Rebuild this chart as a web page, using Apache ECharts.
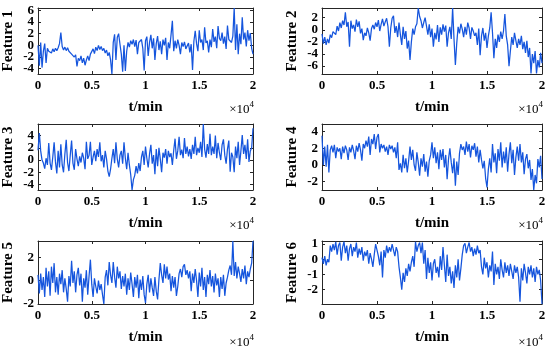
<!DOCTYPE html>
<html>
<head>
<meta charset="utf-8">
<script src="https://cdn.jsdelivr.net/npm/echarts@6/dist/echarts.min.js"></script>
<style>html,body{margin:0;padding:0;background:#fff}#c{width:550px;height:346px}</style>
</head>
<body>
<div id="c"></div>
<script>
// ---- data (t in minutes; one sample every 125 min) ----
const tStep = 125;
const feature1 = [
 0,-3.5,0.5,-3.8,-1,0.3,-3,-0.5,
 -1,-0.7,-1.3,-0.6,-1.1,-0.5,-0.9,-0.4,
 0.3,2.2,-0.2,-0.8,-0.3,-0.9,-0.4,-1,
 -0.8,-1.5,-1.2,-2,-1.6,-3.6,-2.2,-2.6,
 -1.8,-3,-2.2,-3.4,-2.5,-1.8,-2.6,-1.5,
 -1.2,-0.6,-1.4,-0.3,-0.9,0,-0.7,-0.2,
 -0.9,-0.5,-1.3,-0.8,-1.8,-1.2,-2.5,-4.9,
 0.5,1.9,-2.5,1.4,2,0.2,-1.5,-4.5,
 0,-4.4,-1,0.5,-0.3,0.8,0.2,1,
 -0.2,0.9,-1.5,0.5,0.2,1,-0.5,-4.3,
 0.8,1.5,-1.8,0.5,1.8,-0.5,1.2,-2.5,
 0.3,1.6,-0.8,0.7,-1.5,1,0,1.3,
 -2.5,0.5,-0.5,1.8,4.2,-1,0.8,-0.5,
 1,0,-1.5,0.5,-0.2,0.6,-0.6,-0.3,
 0.4,-1.2,0.2,-4.2,0.7,2.5,0.3,-1,
 2.6,0.5,1,-0.8,3.1,0.4,0.8,-1.2,
 1,-0.3,2.8,0.6,1.5,-0.5,3.3,1.2,
 0.8,2.2,0.3,1.5,-0.6,3.4,1,1.3,
 0.5,1.6,6.4,-0.8,3.6,-1.5,2,0.2,
 4.8,1,2.2,-0.2,2.6,0.8,2.1,-0.5,
 -1.5];
const feature2 = [
 -0.7,-2.3,-1.2,-2.5,-1.5,-2.2,-0.8,-1.3,
 -0.3,0,-0.8,0.6,-0.2,1.2,0.3,1.5,
 0.8,2.9,0.5,1.3,-2.8,1.5,0.2,0.8,
 -0.3,1.7,0.5,1.4,-0.6,0.2,-1.7,-0.5,
 -1,0.3,-0.5,-1.8,0.2,0.8,0.1,1.2,
 0.5,1.6,-0.2,0.9,1.8,0.6,1.3,1.9,
 0.5,-2.8,0.3,1.9,2.3,-0.5,0.6,-1.2,
 1.2,-0.8,-2.5,0.5,-1.5,-0.2,-3.1,-1.8,
 -5,-2,0.2,-0.8,0.5,1,3.6,2.2,
 1.5,0.3,1.2,2,0.6,-0.8,0.9,-1.2,
 0.2,-2.8,-0.5,-1.6,0.8,-2,0.4,-0.8,
 0.9,-0.3,0.7,-2.8,-0.5,0.5,-1.5,3.6,
 -1.5,-5.8,-2.2,0.5,-0.6,1,0.1,-1.2,
 0.5,-0.8,1.2,0.3,-1.5,0.4,-0.2,-1,
 -0.5,-2.5,0.2,-4.2,-1,0.3,-1.8,-0.5,
 -3,-1,0.3,2.9,-0.5,-4.7,-1.5,-3,
 -0.8,-2,-0.3,-1.5,-0.2,2.6,-1,-2.5,
 -6,-3.5,-1.2,-2.5,-0.5,-1.8,-3,-1.5,
 -2.5,-1,-3.2,-2,-3.8,-1.8,-4.5,-3,
 -7.2,-4,-5.5,-3.5,-7.2,-5,-6.2,-3.8,
 -5.5];
const feature3 = [
 1.6,4.4,1.5,0,-0.5,-1.4,0.3,-0.8,
 2.8,-0.5,-1.6,0.5,2.9,-0.3,-2.2,1.5,
 -1.2,2.6,-0.8,-2,1,3.3,-0.4,-1.8,
 0.8,3.2,-0.5,-1.6,1.8,0.2,-1,0.6,
 -0.4,1.2,0.3,-1.5,3,0.2,0.8,3,
 -0.8,0.5,1.5,-0.2,1.8,0.5,2.9,-0.2,
 0.8,-1.2,1.5,0.2,-1.8,-2.7,-1.5,0.3,
 1.8,-0.5,2.9,0.2,-1.2,0.8,1.5,-0.6,
 2.9,0.3,-1.5,1.2,-0.8,-2.4,-4.9,-3.2,
 -2.5,-1,-2.2,-0.5,-1.8,0.5,1.5,-0.8,
 2.2,0.3,-1.2,1,2.5,-0.6,0.8,-2.3,
 1.8,-1,2,0.2,-2,1.2,0.4,1.8,
 -0.6,1.5,0.5,1.1,-0.8,1.6,3.5,0.2,
 1.5,3.8,0.8,1.7,0.3,3.6,1,2.2,
 0.6,1.8,0.2,2.5,1,3.8,0.8,2,
 1.2,3,0.5,5.9,1.8,0.4,2.6,1,
 4.3,0.8,2.2,1,4,0.3,2.8,1.2,
 0,2.5,3.4,0.8,-0.6,1.8,3.2,-1.9,
 1.2,0.5,-2,2.2,0.3,3,-0.8,1.5,
 4.1,1,2.5,0.2,3.4,-0.3,1.5,2,
 5.2];
const feature4 = [
 3.5,0,2.2,-0.2,2.4,-0.9,1.8,2.3,
 1.5,2.4,0.8,2.1,1.6,2,0.7,2.2,
 1.4,2.3,1.8,0.6,2.1,1.5,2.4,1.7,
 0.7,2.3,1.6,2.6,1.8,0.5,2.5,2,
 2.9,2.2,3.4,1.2,3.1,2.5,3.7,1.9,
 3.3,3.7,1.5,2.5,2,2.4,1.6,2.2,
 1.2,2.4,1.9,2.3,1.5,2.1,0.8,2.7,
 -0.6,0.2,-0.9,1.2,-0.4,0.8,-0.9,0.5,
 2.2,0.6,1.8,0,-0.7,1.5,0.3,-1.3,
 0.8,-0.2,1.3,-0.8,0.4,-1.4,0.5,1.2,
 2.7,0.8,2.1,0.2,1.5,-0.5,1.8,0.6,
 1.9,-0.3,1.2,-1.7,0.7,2,0.3,-1,
 0.8,-2.5,0.4,-1.2,1.4,2.5,1.8,2.2,
 1.2,2.8,1.6,2.5,0.9,2.3,1.8,2.6,
 1,2.2,0.3,1.8,0.6,-0.4,0.5,-1.6,
 -2.7,-0.5,0.8,-0.9,2.5,0.3,1.4,-1,
 1.9,0.5,2.7,-0.3,1.6,0.2,2.1,-0.8,
 1.3,2.7,0.2,1.8,-1.2,0.9,2.2,0.5,
 2.5,0.3,1.5,-1.1,0.7,1.3,-0.4,0.6,
 -1.8,-0.5,-3,-1.2,-2.2,0.7,-0.3,1.1,
 -1.7];
const feature5 = [
 0.5,-1.1,0.6,-0.8,0.3,-1.4,1.1,-0.5,
 0.8,-1.3,1.2,-0.2,1.5,-1,0.3,-1.2,
 0.6,-0.3,0.9,-1,0.2,-0.7,-1.8,0.4,
 -0.5,1.7,-0.2,0.8,-1,0.5,1.1,-0.4,
 0.6,-1.8,0.2,-0.6,0.9,-1.2,0.4,1.8,
 -0.3,-1.4,0.2,-0.5,-1.1,0,-0.8,-0.3,
 -1.2,-2,0.3,0.9,-0.4,1.6,0.5,-0.2,
 1.6,0.3,-0.6,1.2,0.2,0.8,-0.7,0.4,
 -0.5,0.6,-1.2,0.2,-0.8,0.7,-0.3,-1.4,
 0.3,-0.6,0.5,-1.5,0.1,-0.8,0.4,-1.2,
 -1.9,-0.3,0.5,-1,0.2,-0.6,-1.3,0.3,
 -0.9,-1.6,0.1,1.5,0.5,-0.2,1.4,0.2,
 1.2,0.1,0.6,-0.9,0.4,-0.6,0.3,-1.3,
 -0.5,0.6,1,0.3,1.2,1.4,0.5,0.9,
 0.2,0.8,-0.9,0.6,-0.2,1,0,-1.4,
 0.7,-0.5,1.1,-0.8,0.3,-1.4,0.5,-0.3,
 0.9,-0.5,0.4,-1,0.6,-0.4,0.2,-1.4,
 0.3,-0.7,0.5,-1.3,-0.2,0.3,0.9,1.3,
 0.5,3.4,0.4,1.6,0.2,1.2,0.6,-0.1,
 1,0.2,1.3,-0.3,0.8,0.3,1,1.5,
 3.4];
const feature6 = [
 0.1,-0.3,0.2,-0.4,0,-0.2,0.9,0.5,
 1,0.6,1.15,0.3,0.9,1.1,-0.1,0.8,
 1.15,0.4,0.9,-0.1,0.7,1,0.2,0.8,
 0.5,1.1,0.1,0.7,0.3,0.8,-0.1,0.5,
 0.2,0.6,-0.3,0.4,0,-0.5,0.3,1,
 0.9,0.2,-0.4,0.5,-1.2,0.6,0.1,0.9,
 0.4,0.8,0.5,1,0.6,0.2,0.8,0.5,
 -0.5,-1.2,-2,-0.9,-1.5,-0.6,-1.1,-0.3,
 -0.8,-0.2,0.2,-0.5,1.15,0.5,0.9,1.1,
 0.4,1.1,-0.3,0.6,-1.3,0.1,-0.9,-0.2,
 -1.4,-0.3,0,-0.9,-0.5,-1.2,0.2,-0.7,
 0.8,-0.4,-1.5,0.3,-1.1,-0.5,-1.6,-0.8,
 -1.9,-0.4,-1.2,0,-1.4,-0.6,0.3,0.9,
 1.05,0.4,0.8,1.1,0.5,0.8,0.2,0.7,
 0.3,0.9,0.4,0.6,-0.5,-1,0.1,-0.6,
 -0.2,-1.2,-0.4,-0.8,0.5,-1.7,-0.3,-1,
 -0.5,-1.3,0,-0.7,-1.2,-0.2,-0.9,-0.4,
 -1.1,-0.3,-0.8,-1.3,-0.4,-0.9,-0.5,-1.2,
 -2.8,-0.6,-1.4,-0.3,-0.9,-1.6,-0.5,-1,
 -0.4,-1.2,-0.6,-1.5,-0.5,-1,-0.7,-1.4,
 -2.95];
const features = [feature1, feature2, feature3, feature4, feature5, feature6];
const featureNames = ['Feature 1','Feature 2','Feature 3','Feature 4','Feature 5','Feature 6'];
const yMins = [-4.9, -7.3, -4.9, -3.0, -2.0, -2.95];
const yMaxs = [6.4, 3.6, 5.9, 4.9, 3.4, 1.2];
const yTicks = [[-4,-2,0,2,4,6],[-6,-4,-2,0,2],[-4,-2,0,2,4],[-2,0,2,4],[-2,0,2],[-2,-1,0,1]];
const xMax = 20000, xInterval = 5000, xScale = 10000;
const xAxisTitle = 't/min';

// ---- layout ----
const lefts = [33, 322], tops = [8, 124, 241], W = 220, H = 66;
const lineColor = '#1555dd', axisColor = '#262626';
const font = 'Liberation Serif, Times New Roman, serif';

const grids = [], xAxes = [], yAxes = [], series = [], graphics = [];
features.forEach((vals, k) => {
  const col = k % 2, row = Math.floor(k / 2);
  grids.push({left: lefts[col], top: tops[row], width: W, height: H, containLabel: false});
  const gi = k;
  const axLine = {show: true, onZero: false, lineStyle: {color: axisColor, width: 1}};
  const tick = {show: true, inside: true, length: 3, lineStyle: {color: axisColor}};
  const lbl = {color: '#000', fontFamily: font, fontWeight: 'bold', fontSize: 13, margin: 4,
    showMinLabel: true, showMaxLabel: true, hideOverlap: false};
  xAxes.push({gridIndex: gi, type: 'value', min: 0, max: xMax, interval: xInterval, position: 'bottom',
    axisLine: axLine, axisTick: tick, splitLine: {show: false},
    axisLabel: Object.assign({}, lbl, {margin: 5, formatter: v => String(v / xScale)}),
    name: xAxisTitle, nameLocation: 'middle', nameGap: 26, nameMoveOverlap: false,
    nameTextStyle: {color: '#000', fontFamily: font, fontWeight: 'bold', fontSize: 15}});
  xAxes.push({gridIndex: gi, type: 'value', min: 0, max: xMax, interval: xInterval, position: 'top',
    axisLine: axLine, axisTick: tick, axisLabel: {show: false}, splitLine: {show: false}});
  // labels split over two left axes so neighbouring labels never collide
  const evenTicks = yTicks[k].filter((v, i) => i % 2 === 0);
  const oddTicks = yTicks[k].filter((v, i) => i % 2 === 1);
  yAxes.push({gridIndex: gi, type: 'value', min: yMins[k], max: yMaxs[k], position: 'left',
    axisLine: axLine, axisTick: Object.assign({}, tick, {customValues: yTicks[k]}), splitLine: {show: false},
    axisLabel: Object.assign({}, lbl, {customValues: evenTicks}),
    name: featureNames[k], nameLocation: 'middle', nameGap: 22, nameRotate: 90, nameMoveOverlap: false,
    nameTextStyle: {color: '#000', fontFamily: font, fontWeight: 'bold', fontSize: 15}});
  yAxes.push({gridIndex: gi, type: 'value', min: yMins[k], max: yMaxs[k], position: 'left', offset: 0,
    axisLine: {show: false}, axisTick: {show: false}, splitLine: {show: false},
    axisLabel: Object.assign({}, lbl, {customValues: oddTicks})});
  yAxes.push({gridIndex: gi, type: 'value', min: yMins[k], max: yMaxs[k], position: 'right',
    axisLine: axLine, axisTick: Object.assign({}, tick, {customValues: yTicks[k]}),
    axisLabel: {show: false}, splitLine: {show: false}});
  series.push({type: 'line', xAxisIndex: 2 * k, yAxisIndex: 3 * k, showSymbol: false, animation: false,
    lineStyle: {color: lineColor, width: 1.25}, data: vals.map((v, i) => [i * tStep, v])});
  graphics.push({type: 'text', right: 550 - (lefts[col] + W) - 1, top: tops[row] + H + 26,
    style: {text: '{a|×10}{b|4}', rich: {
      a: {fontFamily: font, fontSize: 13, fill: '#000', verticalAlign: 'bottom', lineHeight: 16},
      b: {fontFamily: font, fontSize: 9, fill: '#000', verticalAlign: 'top', lineHeight: 16, padding: [0, 0, 8, 0]}}}});
});

const chart = echarts.init(document.getElementById('c'), null, {renderer: 'canvas'});
chart.setOption({animation: false, backgroundColor: '#fff', grid: grids, xAxis: xAxes, yAxis: yAxes, series, graphic: graphics});
</script>
</body>
</html>
